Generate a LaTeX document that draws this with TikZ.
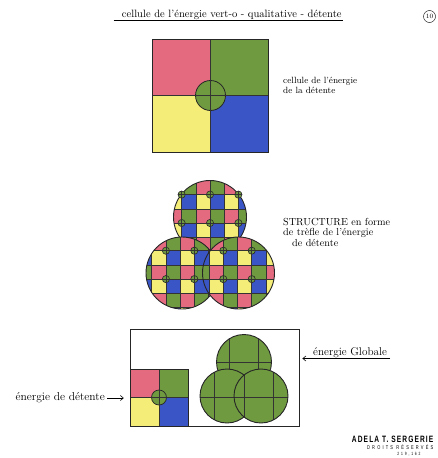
\documentclass[tikz,border=0pt]{standalone}
\usepackage{fontspec}
\newfontfamily\signfont[FakeStretch=0.72,LetterSpace=12]{Liberation Sans}
\newfontfamily\smallsignfont[FakeStretch=0.72,LetterSpace=40]{Liberation Sans}
\usetikzlibrary{arrows.meta,positioning,calc}

\definecolor{cellpink}{HTML}{E46A80}
\definecolor{cellgreen}{HTML}{6F9A40}
\definecolor{cellyellow}{HTML}{F4EE78}
\definecolor{cellblue}{HTML}{3A55C6}
\colorlet{cell11}{cellpink}
\colorlet{cell01}{cellgreen}
\colorlet{cell10}{cellyellow}
\colorlet{cell00}{cellblue}

\begin{document}
\begin{tikzpicture}[
    x=1pt, y=-1pt,
    hand/.style={inner sep=0pt, align=left},
    outline/.style={draw=black!85, line width=0.9pt},
    gridline/.style={draw=black!80, line width=0.6pt},
    knot/.style={draw=black!85, fill=cellgreen, line width=0.6pt},
    pointer/.style={-{Straight Barb[length=3pt,width=5pt]}, line width=0.6pt}
]
\useasboundingbox (0,0) rectangle (437,458);

\node[hand, anchor=base west, font=\fontsize{10.6}{11}\selectfont] (ttl) at (121.7,17.5) {cellule de l'énergie vert-o - qualitative - détente};
\draw[line width=0.5pt] ([xshift=-8pt,yshift=-3pt]ttl.base west) -- ([xshift=1pt,yshift=-3pt]ttl.base east);
\node[draw, circle, minimum size=12pt, inner sep=0pt, font=\fontsize{6.5}{6.5}\selectfont] (pgnum) at (429.5,16.5) {10};

\fill[cellpink] (152,39) rectangle (210.5,95.5);
\fill[cellgreen] (210.5,39) rectangle (268,95.5);
\fill[cellyellow] (152,95.5) rectangle (210.5,152);
\fill[cellblue] (210.5,95.5) rectangle (268,152);
\draw[knot, line width=0.8pt] (210.5,95.5) circle[radius=15pt];
\draw[gridline] (152,95.5) -- (268,95.5) (210.5,39) -- (210.5,152);
\draw[outline] (152,39) rectangle (268,152);
\node[hand, anchor=north west, font=\fontsize{9}{8}\selectfont] (capcell) at (283,77.5) {cellule de l'énergie\\de la détente};

\foreach \ox/\oy/\cx/\cy/\r in {210/223/210/217/36.5, 165.9/250.7/182/273/36, 223.3/250.7/238.5/273/36}{
  \begin{scope}
    \clip (\cx,\cy) circle[radius=\r pt];
    \foreach \i in {-5,...,4}{
      \foreach \j in {-5,...,4}{
        \pgfmathtruncatemacro\ci{mod(\i+10,2)}
        \pgfmathtruncatemacro\cj{mod(\j+10,2)}
        \fill[fill=cell\ci\cj] ({\ox+\i*14.2},{\oy+\j*14.2}) rectangle ++(14.2,14.2);
      }
    }
    \foreach \k in {-5,...,5}{
      \draw[gridline] ({\ox+\k*14.2},{\cy-40}) -- ++(0,80);
      \draw[gridline] ({\cx-40},{\oy+\k*14.2}) -- ++(80,0);
    }
  \end{scope}
  \draw[outline] (\cx,\cy) circle[radius=\r pt];
}
\foreach \px/\py in {181.6/194.6, 210/194.6, 238.4/194.6, 181.6/223, 210/223, 238.4/223,
    165.9/250.7, 194.3/250.7, 165.9/279.1, 194.3/279.1,
    223.3/250.7, 251.7/250.7, 223.3/279.1, 251.7/279.1}{
  \draw[knot] (\px,\py) circle[radius=3.6pt];
  \draw[gridline] (\px-3.6,\py) -- (\px+3.6,\py) (\px,\py-3.6) -- (\px,\py+3.6);
}
\node[hand, anchor=north west, font=\fontsize{10.2}{10.5}\selectfont] (capstruct) at (283,218) {STRUCTURE en forme\\de trèfle de l'énergie\\\hspace{9pt}de détente};

\node[draw=black!85, line width=0.8pt, minimum width=169pt, minimum height=97pt, inner sep=0pt] (globbox) at (214.5,377.5) {};
\foreach \cx/\cy/\r/\vx/\hy in {244/362/27.5/{229.3,258.3}/362.3, 227/396/27/{214.3,244.3,273.3}/397.7, 261/396/27/{214.3,244.3,273.3}/397.7}{
  \begin{scope}
    \clip (\cx,\cy) circle[radius=\r pt];
    \fill[cellgreen] (\cx,\cy) circle[radius=\r pt];
    \foreach \x in \vx {\draw[gridline] (\x,\cy-30) -- (\x,\cy+30);}
    \draw[gridline] (\cx-30,\hy) -- (\cx+30,\hy);
  \end{scope}
  \draw[outline] (\cx,\cy) circle[radius=\r pt];
}

\fill[cellpink] (130,369) rectangle (159,397.5);
\fill[cellgreen] (159,369) rectangle (188,397.5);
\fill[cellyellow] (130,397.5) rectangle (159,426);
\fill[cellblue] (159,397.5) rectangle (188,426);
\draw[knot, line width=0.7pt] (159,397.5) circle[radius=7.5pt];
\draw[gridline] (130,397.5) -- (188,397.5) (159,369) -- (159,426);
\draw[outline] (130,369) rectangle (188,426);
\node[minimum width=58pt, minimum height=57pt, inner sep=0pt] (smallcell) at (159,397.5) {};

\node[hand, anchor=east, font=\fontsize{11.5}{11.5}\selectfont] (lbldet) at (105,398) {énergie de détente};
\draw[pointer, shorten <=2pt, shorten >=6pt] (lbldet.east) -- (lbldet.east -| smallcell.west);
\node[hand, anchor=south west, inner sep=1pt, font=\fontsize{11.2}{11.2}\selectfont] (lblglob) at (312,358.5) {énergie Globale};
\draw[pointer, shorten >=3pt] ([xshift=2pt]lblglob.south east) -- (lblglob.south east -| globbox.east);

\node[anchor=base east, inner sep=0pt, font=\signfont\bfseries\fontsize{9.2}{9.2}\selectfont] (sign) at (433.5,442) {ADELA T. SERGERIE};
\node[anchor=base east, inner sep=0pt, font=\smallsignfont\fontsize{5.5}{5.5}\selectfont] (rights) at (433.5,449.5) {DROITS RÉSERVÉS};
\node[anchor=base, inner sep=0pt, font=\smallsignfont\fontsize{4.6}{4.6}\selectfont] (regno) at (409,455.5) {219,162};

\end{tikzpicture}
\end{document}
